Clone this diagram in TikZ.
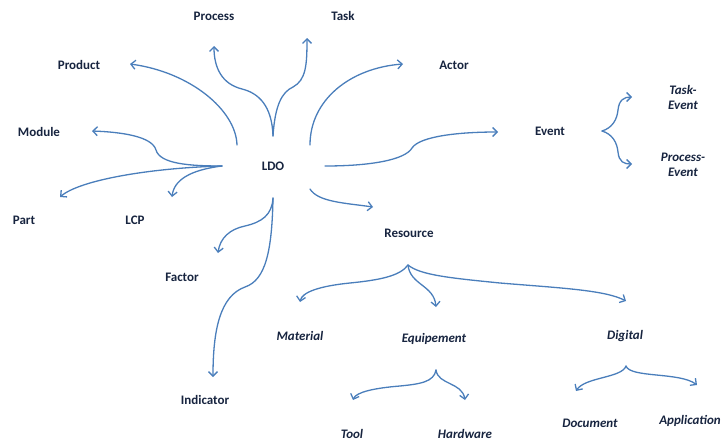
\documentclass[tikz,border=0pt]{standalone}
\usepackage{fontspec}
\setmainfont{Carlito}
\usetikzlibrary{arrows.meta}
\definecolor{navy}{RGB}{23,36,63}
\definecolor{linkblue}{RGB}{74,126,187}

\begin{document}
\begin{tikzpicture}[x=1pt,y=-1pt,% pixel grid, y going down
				every node/.style={
					align=center,  		% so that "\\" breaks a line
					text=navy,
					font=\bfseries\fontsize{13}{15}\selectfont
				},
				subclass/.style={font=\bfseries\itshape\fontsize{13}{15}\selectfont},
				link/.style={draw=linkblue,line width=1.3pt,line cap=round,
					-{Straight Barb[length=4.5pt,width=9pt]}}
			]
			\useasboundingbox (0,0) rectangle (723,442);
			% centre and its classes
			\node (LDO) at (273,166) {LDO};
			\node (Process) at (214,16) {Process};
			\node (Task) at (343,16) {Task};
			\node (Product) at (79,65) {Product};
			\node (Actor) at (454,65) {Actor};
			\node (Module) at (39,132) {Module};
			\node (Event) at (550,131) {Event};
			\node (Part) at (24,220) {Part};
			\node (LCP) at (135,220) {LCP};
			\node (Resource) at (409,233) {Resource};
			\node (Factor) at (182,277) {Factor};
			\node (Indicator) at (205,400) {Indicator};
			% sub classes
			\node[subclass] (TaskEvent) at (683,97) {Task-\\Event};
			\node[subclass] (ProcessEvent) at (683,165) {Process-\\Event};
			\node[subclass] (Material) at (300,336) {Material};
			\node[subclass] (Equipement) at (434,339) {Equipement};
			\node[subclass] (Digital) at (625,336) {Digital};
			\node[subclass] (Tool) at (352,434) {Tool};
			\node[subclass] (Hardware) at (465,434) {Hardware};
			\node[subclass] (Document) at (590,423) {Document};
			\node[subclass] (Application) at (690,421) {Application};
			% forks
			\coordinate (ldoTL) at ([shift={(-36,-21)}]LDO.center);
			\coordinate (ldoT) at ([shift={(0,-30)}]LDO.center);
			\coordinate (ldoTR) at ([shift={(37,-21)}]LDO.center);
			\coordinate (ldoL) at ([shift={(-51,0)}]LDO.center);
			\coordinate (ldoR) at ([shift={(52,0)}]LDO.center);
			\coordinate (ldoBR) at ([shift={(37,23)}]LDO.center);
			\coordinate (ldoB) at ([shift={(0,32)}]LDO.center);
			\coordinate (evFork) at ([shift={(52,0)}]Event.center);
			\coordinate (resFork) at ([shift={(-1,32)}]Resource.center);
			\coordinate (eqFork) at ([shift={(2,31)}]Equipement.center);
			\coordinate (digFork) at ([shift={(1,30)}]Digital.center);
			% connectors
			\draw[link] (ldoTL) .. controls (236,110) and (190,72) .. ([shift={(51,-1)}]Product.center);
			\draw[link] (ldoT) .. controls (272,105) and (258,93) .. (242,89)
				.. controls (222,84) and (214,68) .. ([shift={(0,30)}]Process.center);
			\draw[link] (ldoT) .. controls (275,105) and (282,92) .. (293,87)
				.. controls (306,80) and (307,65) .. ([shift={(-36,22)}]Task.center);
			\draw[link] (ldoTR) .. controls (310,100) and (350,68) .. ([shift={(-51,-1)}]Actor.center);
			\draw[link] (ldoL) .. controls (190,166) and (160,164) .. (156,150)
				.. controls (152,136) and (120,132) .. ([shift={(53,-1)}]Module.center);
			\draw[link] (ldoL) .. controls (150,168) and (80,180) .. ([shift={(36,-23)}]Part.center);
			\draw[link] (ldoL) .. controls (190,170) and (174,180) .. ([shift={(37,-23)}]LCP.center);
			\draw[link] (ldoR) .. controls (370,166) and (405,160) .. (412,148)
				.. controls (420,136) and (460,132) .. ([shift={(-52,1)}]Event.center);
			\draw[link] (ldoBR) .. controls (318,202) and (345,203) .. ([shift={(-36,-26)}]Resource.center);
			\draw[link] (ldoB) .. controls (272,215) and (262,222) .. (245,226)
				.. controls (230,229) and (220,238) .. ([shift={(36,-24)}]Factor.center);
			\draw[link] (ldoB) .. controls (272,250) and (266,280) .. (245,287)
				.. controls (220,296) and (213,330) .. ([shift={(8,-23)}]Indicator.center);
			\draw[link] (evFork) .. controls (612,128) and (617,120) .. (618,110)
				.. controls (619,100) and (624,97) .. ([shift={(-51,0)}]TaskEvent.center);
			\draw[link] (evFork) .. controls (612,134) and (617,142) .. (618,152)
				.. controls (619,162) and (624,164) .. ([shift={(-51,-1)}]ProcessEvent.center);
			\draw[link] (resFork) .. controls (400,276) and (380,280) .. (350,283)
				.. controls (320,286) and (302,292) .. ([shift={(0,-34)}]Material.center);
			\draw[link] (resFork) .. controls (410,285) and (434,285) .. ([shift={(2,-32)}]Equipement.center);
			\draw[link] (resFork) .. controls (420,275) and (450,278) .. (500,283)
				.. controls (560,288) and (605,290) .. ([shift={(1,-35)}]Digital.center);
			\draw[link] (eqFork) .. controls (434,382) and (420,384) .. (400,386)
				.. controls (375,388) and (356,392) .. ([shift={(1,-34)}]Tool.center);
			\draw[link] (eqFork) .. controls (438,385) and (462,382) .. ([shift={(0,-34)}]Hardware.center);
			\draw[link] (digFork) .. controls (622,378) and (585,377) .. ([shift={(-14,-32)}]Document.center);
			\draw[link] (digFork) .. controls (630,378) and (680,372) .. ([shift={(7,-36)}]Application.center);
		\end{tikzpicture}
\end{document}
